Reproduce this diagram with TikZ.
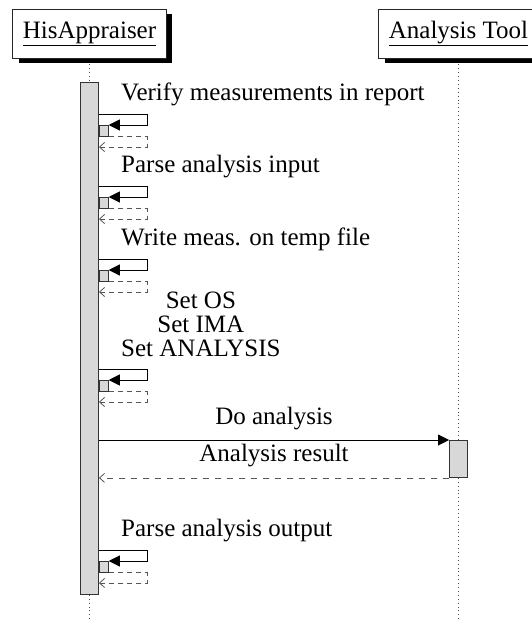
\documentclass[tikz,border=0pt]{standalone}
\usepackage{fontspec}
\setmainfont{Liberation Serif}
\usetikzlibrary{arrows.meta,calc,shadows}

\definecolor{barfill}{HTML}{D8D8D8}
\definecolor{retgray}{HTML}{555555}

% one self call on the HisAppraiser activation: #1 id, #2 top y, #3 label
\newcommand\selfcall[3]{%
  \node[lbl, anchor=base west] (#1-l) at (121,#2-14) {#3};
  \coordinate (#1-a) at (hisbar.east |- 0,#2);
  \coordinate (#1-r) at (147,#2);
  \coordinate (#1-q) at (147,#2+33);
  \node[nestbar, anchor=north west] (#1-n) at (hisbar.east |- 0,#2+11) {};
  \draw[callline] (#1-a) -- (#1-r) |- (#1-n.north east);
  \draw[retline, dash pattern=on 5pt off 4pt] (#1-n.south east) -| (#1-q) -- (hisbar.east |- #1-q);
}

\begin{document}
\begin{tikzpicture}[x=1pt,y=-1pt,
  every node/.style={font=\fontsize{25}{24}\selectfont},
  lbl/.style={inner sep=0pt},
  objbox/.style={draw=black!85, line width=0.8pt, fill=white, inner xsep=10pt,
    inner ysep=0pt, minimum height=49pt,
    drop shadow={shadow xshift=6pt, shadow yshift=-5pt, opacity=1, fill=black}},
  lifeline/.style={draw=black!70, line width=0.9pt, dash pattern=on 0.9pt off 3pt},
  actbar/.style={draw=black!80, fill=barfill, line width=0.9pt, inner sep=0pt,
    minimum width=18pt},
  nestbar/.style={draw=black!80, fill=barfill, line width=0.8pt, inner sep=0pt,
    minimum width=9pt, minimum height=11pt},
  callline/.style={draw=black, line width=0.8pt, -{Triangle[length=11pt,width=11pt]}},
  retline/.style={draw=retgray, line width=0.8pt, dash pattern=on 6pt off 6pt,
    -{Straight Barb[length=5pt,width=9pt]}},
]
\useasboundingbox (0,0) rectangle (531,621);
\coordinate (bottom) at (0,621);

% objects
\node[objbox] (his) at (89.5,33.5) {\underline{HisAppraiser}};
\node[objbox] (tool) at (458.5,33.5) {\underline{Analysis Tool}};

% lifelines
\draw[lifeline] ([yshift=-6pt]his.south) -- (his.south |- bottom);
\draw[lifeline] ([yshift=-6pt]tool.south) -- (tool.south |- bottom);

% activations
\node[actbar, minimum height=512pt, anchor=north] (hisbar) at (his.south |- 0,82) {};
\node[actbar, minimum height=37pt, anchor=north] (toolbar) at (tool.south |- 0,440) {};

% self calls
\selfcall{s1}{114}{Verify measurements in report}
\selfcall{s2}{186}{Parse analysis input}
\selfcall{s3}{259}{Write meas. on temp file}
\selfcall{s4}{369}{}
\node[lbl, align=center, anchor=south west] (s4-t) at (121,357)
  {Set OS\\Set IMA\\Set ANALYSIS};
\selfcall{s5}{550}{Parse analysis output}

% call to the analysis tool and its result
\draw[callline] (hisbar.east |- toolbar.north) -- (toolbar.north west)
  node[lbl, pos=0.5, anchor=base, yshift=16pt] (docall) {Do analysis};
\draw[retline] (toolbar.south west) -- (hisbar.east |- toolbar.south)
  node[lbl, pos=0.5, anchor=base, yshift=16pt] (result) {Analysis result};
\end{tikzpicture}
\end{document}
